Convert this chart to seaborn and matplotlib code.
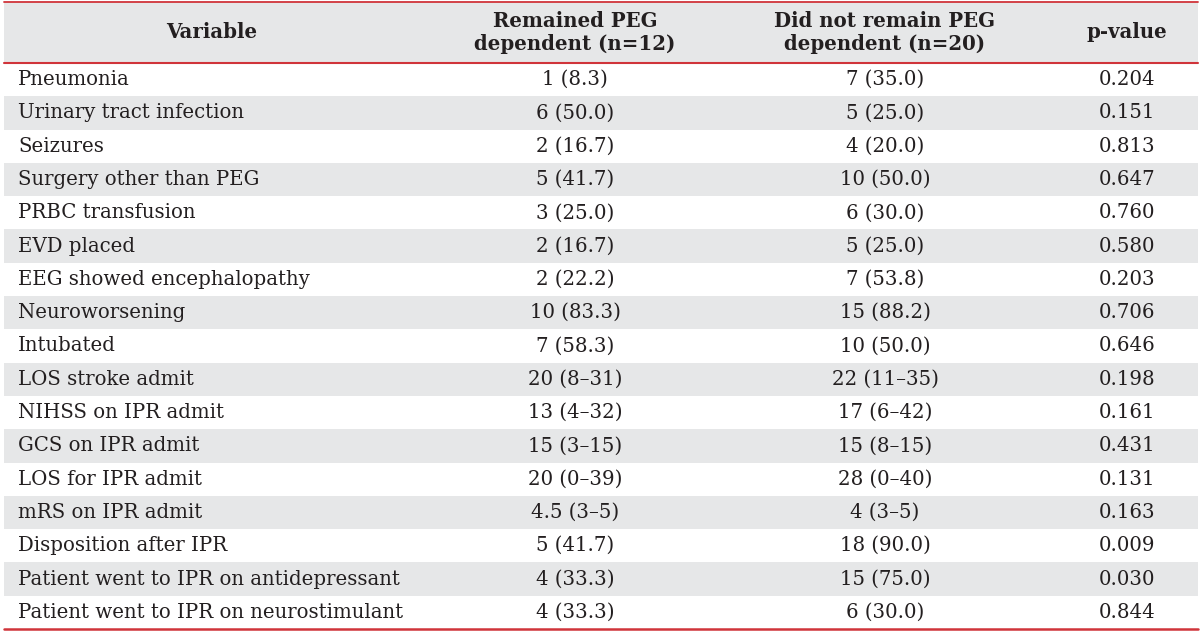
import matplotlib
matplotlib.use("Agg")
import matplotlib.pyplot as plt
import seaborn as sns

# Table contents
variables = [
    "Pneumonia", "Urinary tract infection", "Seizures", "Surgery other than PEG",
    "PRBC transfusion", "EVD placed", "EEG showed encephalopathy", "Neuroworsening",
    "Intubated", "LOS stroke admit", "NIHSS on IPR admit", "GCS on IPR admit",
    "LOS for IPR admit", "mRS on IPR admit", "Disposition after IPR",
    "Patient went to IPR on antidepressant", "Patient went to IPR on neurostimulant",
]
remained = [
    "1 (8.3)", "6 (50.0)", "2 (16.7)", "5 (41.7)", "3 (25.0)", "2 (16.7)", "2 (22.2)",
    "10 (83.3)", "7 (58.3)", "20 (8\u201331)", "13 (4\u201332)", "15 (3\u201315)",
    "20 (0\u201339)", "4.5 (3\u20135)", "5 (41.7)", "4 (33.3)", "4 (33.3)",
]
not_remained = [
    "7 (35.0)", "5 (25.0)", "4 (20.0)", "10 (50.0)", "6 (30.0)", "5 (25.0)", "7 (53.8)",
    "15 (88.2)", "10 (50.0)", "22 (11\u201335)", "17 (6\u201342)", "15 (8\u201315)",
    "28 (0\u201340)", "4 (3\u20135)", "18 (90.0)", "15 (75.0)", "6 (30.0)",
]
p_values = [
    "0.204", "0.151", "0.813", "0.647", "0.760", "0.580", "0.203", "0.706", "0.646",
    "0.198", "0.161", "0.431", "0.131", "0.163", "0.009", "0.030", "0.844",
]
headers = ["Variable", "Remained PEG\ndependent (n=12)",
           "Did not remain PEG\ndependent (n=20)", "p-value"]

sns.set_theme(style="white")
plt.rcParams["font.family"] = ["DejaVu Serif"]

gray = "#e6e7e8"
red = "#d0343a"
ink = "#231f20"

fig = plt.figure(figsize=(12, 6.31), dpi=100)
# axes in pixel-ish units horizontally, row units vertically
ax = fig.add_axes([4 / 1200, 2 / 631, 1194 / 1200, 627 / 631])
n = len(variables)
head_h = 61 / 33.3
ax.set_xlim(4, 1198)
ax.set_ylim(n, -head_h)
ax.axis("off")

# header band
ax.axhspan(-head_h, 0, color=gray, lw=0)
# zebra rows
for i in range(n):
    if i % 2 == 1:
        ax.axhspan(i, i + 1, color=gray, lw=0)

for y, w in ((-head_h, 1.3), (0, 1.5), (n, 1.8)):
    ax.axhline(y, color=red, lw=w, clip_on=False)

col_x = [212, 575, 885, 1127]
fs = 14.2
for j, h in enumerate(headers):
    ax.text(col_x[j], -head_h / 2, h, ha="center", va="center", fontsize=fs,
            fontweight="bold", color=ink, linespacing=1.2)

for i in range(n):
    yc = i + 0.5
    ax.text(18, yc, variables[i], ha="left", va="center", fontsize=fs, color=ink)
    ax.text(col_x[1], yc, remained[i], ha="center", va="center", fontsize=fs, color=ink)
    ax.text(col_x[2], yc, not_remained[i], ha="center", va="center", fontsize=fs, color=ink)
    ax.text(col_x[3], yc, p_values[i], ha="center", va="center", fontsize=fs, color=ink)

fig.savefig("out.png", dpi=100)
